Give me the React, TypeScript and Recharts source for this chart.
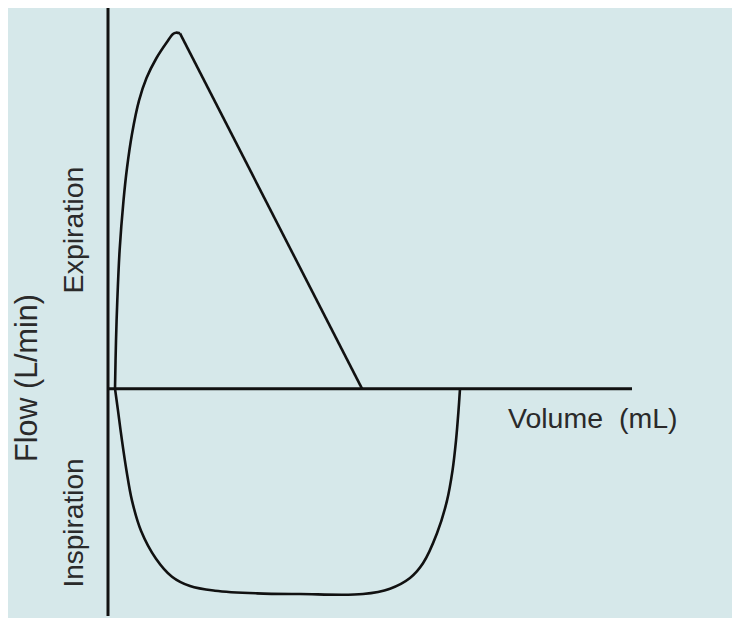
import React from 'react';
import { ComposedChart, Line, XAxis, YAxis, ReferenceLine, Customized } from 'recharts';

// flow-volume loop, values (volume mL, flow L/min)
const expirationRise = [
  { volume: 70, flow: 0 },
  { volume: 80, flow: 72 },
  { volume: 93, flow: 132 },
  { volume: 116, flow: 207 },
  { volume: 155, flow: 282 },
  { volume: 190, flow: 331 },
  { volume: 240, flow: 382 },
  { volume: 310, flow: 432 },
  { volume: 385, flow: 466 },
  { volume: 485, flow: 496 },
  { volume: 590, flow: 520 },
  { volume: 650, flow: 532 },
  { volume: 680, flow: 534 },
  { volume: 720, flow: 533 },
];

const expirationFall = [
  { volume: 720, flow: 533 },
  { volume: 2540, flow: 0 },
];

const inspiration = [
  { volume: 70, flow: 0 },
  { volume: 100, flow: -33 },
  { volume: 140, flow: -78 },
  { volume: 185, flow: -123 },
  { volume: 240, flow: -168 },
  { volume: 330, flow: -213 },
  { volume: 480, flow: -255 },
  { volume: 640, flow: -282 },
  { volume: 820, flow: -296 },
  { volume: 1070, flow: -303 },
  { volume: 1490, flow: -307 },
  { volume: 1920, flow: -308 },
  { volume: 2550, flow: -308 },
  { volume: 2820, flow: -300 },
  { volume: 3020, flow: -284 },
  { volume: 3150, flow: -262 },
  { volume: 3290, flow: -217 },
  { volume: 3390, flow: -168 },
  { volume: 3445, flow: -123 },
  { volume: 3480, flow: -78 },
  { volume: 3505, flow: -33 },
  { volume: 3520, flow: 0 },
];

const volumeDomain = [0, 5240];
const flowDomain = [-341, 571];

const xLabel = 'Volume\u00a0\u00a0(mL)';
const yLabel = 'Flow (L/min)';
const upperLabel = 'Expiration';
const lowerLabel = 'Inspiration';

const ink = '#111';
const font = '"Liberation Sans", Arial, sans-serif';

// centripetal catmull-rom, parametric so it copes with the near-vertical parts of the loop
const smoothCurve = (context: any) => {
  let pts: number[][] = [];
  return {
    areaStart() {},
    areaEnd() {},
    lineStart() {
      pts = [];
    },
    point(x: number, y: number) {
      pts.push([+x, +y]);
    },
    lineEnd() {
      if (!pts.length) return;
      context.moveTo(pts[0][0], pts[0][1]);
      for (let i = 0; i < pts.length - 1; i++) {
        const p0 = pts[i - 1] || pts[i];
        const p1 = pts[i];
        const p2 = pts[i + 1];
        const p3 = pts[i + 2] || pts[i + 1];
        const l01 = Math.sqrt(Math.hypot(p1[0] - p0[0], p1[1] - p0[1]));
        const l12 = Math.sqrt(Math.hypot(p2[0] - p1[0], p2[1] - p1[1]));
        const l23 = Math.sqrt(Math.hypot(p3[0] - p2[0], p3[1] - p2[1]));
        let c1 = [p1[0], p1[1]];
        let c2 = [p2[0], p2[1]];
        if (l01 > 1e-6) {
          const a = 2 * l01 * l01 + 3 * l01 * l12 + l12 * l12;
          const n = 3 * l01 * (l01 + l12);
          c1 = [0, 1].map((k) => (p1[k] * a - p0[k] * l12 * l12 + p2[k] * l01 * l01) / n);
        }
        if (l23 > 1e-6) {
          const b = 2 * l23 * l23 + 3 * l23 * l12 + l12 * l12;
          const m = 3 * l23 * (l23 + l12);
          c2 = [0, 1].map((k) => (p2[k] * b + p1[k] * l23 * l23 - p3[k] * l12 * l12) / m);
        }
        context.bezierCurveTo(c1[0], c1[1], c2[0], c2[1], p2[0], p2[1]);
      }
    },
  };
};

const Labels = () => (
  <g fontFamily={font} fill="#2a2a2a">
    <text x={500} y={420} fontSize={28.5}>{xLabel}</text>
    <text x={28.5} y={370} fontSize={30.5} textAnchor="middle" transform="rotate(-90, 28.5, 370)">{yLabel}</text>
    <text x={75} y={222} fontSize={28.5} textAnchor="middle" transform="rotate(-90, 75, 222)">{upperLabel}</text>
    <text x={75} y={515} fontSize={28} textAnchor="middle" transform="rotate(-90, 75, 515)">{lowerLabel}</text>
  </g>
);

const App = () => {
  return (
    <div style={{ position: 'absolute', left: 8, top: 8, width: 724, height: 610, background: '#d6e8ea' }}>
      <ComposedChart width={724} height={610} margin={{ top: 0, right: 100, bottom: 2, left: 100 }}>
        <XAxis type="number" dataKey="volume" domain={volumeDomain} hide allowDataOverflow />
        <YAxis type="number" dataKey="flow" domain={flowDomain} hide allowDataOverflow />
        <ReferenceLine x={0} stroke={ink} strokeWidth={3} />
        <ReferenceLine y={0} stroke={ink} strokeWidth={3} />
        <Line data={expirationRise} dataKey="flow" type={smoothCurve as any} stroke={ink} strokeWidth={2.6} dot={false} isAnimationActive={false} />
        <Line data={expirationFall} dataKey="flow" type="linear" stroke={ink} strokeWidth={2.6} dot={false} isAnimationActive={false} />
        <Line data={inspiration} dataKey="flow" type={smoothCurve as any} stroke={ink} strokeWidth={2.6} dot={false} isAnimationActive={false} />
        <Customized component={Labels} />
      </ComposedChart>
    </div>
  );
};

export default App;
